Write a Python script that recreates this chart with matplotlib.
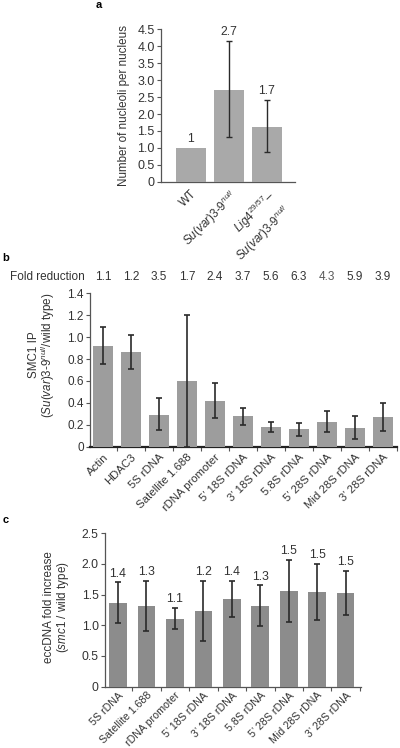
import numpy as np
import matplotlib
matplotlib.use("Agg")
import matplotlib.pyplot as plt

plt.rcParams['font.family'] = ['Liberation Sans', 'DejaVu Sans']
plt.rcParams['mathtext.fontset'] = 'custom'
plt.rcParams['mathtext.rm'] = 'Liberation Sans'
plt.rcParams['mathtext.it'] = 'Liberation Sans:italic'
plt.rcParams['mathtext.bf'] = 'Liberation Sans:bold'

# ---------------- data ----------------
a_labels = ["WT", r"$Su(var)3$-$9^{null}$", "$Lig4^{29/57}$\u2013\n" + r"$Su(var)3$-$9^{null}$"]
a_values = [1.0, 2.7, 1.63]
a_err_hi = [np.nan, 4.14, 2.41]
a_err_lo = [np.nan, 1.31, 0.89]
a_texts = ["1", "2.7", "1.7"]
a_yticks = [0, 0.5, 1.0, 1.5, 2.0, 2.5, 3.0, 3.5, 4.0, 4.5]

b_labels = ["Actin", "HDAC3", "5S rDNA", "Satellite 1.688", "rDNA promoter",
            "5\u2019 18S rDNA", "3\u2019 18S rDNA", "5.8S rDNA", "5\u2019 28S rDNA",
            "Mid 28S rDNA", "3\u2019 28S rDNA"]
b_values = [0.92, 0.86, 0.285, 0.60, 0.42, 0.28, 0.18, 0.16, 0.23, 0.175, 0.27]
b_err_hi = [1.09, 1.02, 0.44, 1.20, 0.58, 0.35, 0.23, 0.22, 0.33, 0.28, 0.40]
b_err_lo = [0.755, 0.71, 0.15, 0.0, 0.26, 0.20, 0.13, 0.10, 0.13, 0.07, 0.14]
b_fold = ["1.1", "1.2", "3.5", "1.7", "2.4", "3.7", "5.6", "6.3", "4.3", "5.9", "3.9"]
b_yticks = [0, 0.2, 0.4, 0.6, 0.8, 1.0, 1.2, 1.4]

c_labels = ["5S rDNA", "Satellite 1.688", "rDNA promoter", "5\u2019 18S rDNA",
            "3\u2019 18S rDNA", "5.8S rDNA", "5\u2019 28S rDNA", "Mid 28S rDNA",
            "3\u2019 28S rDNA"]
c_values = [1.37, 1.32, 1.11, 1.23, 1.43, 1.32, 1.56, 1.54, 1.53]
c_err_hi = [1.70, 1.72, 1.29, 1.72, 1.72, 1.65, 2.07, 2.00, 1.89]
c_err_lo = [1.04, 0.91, 0.94, 0.75, 1.14, 0.99, 1.05, 1.08, 1.16]
c_texts = ["1.4", "1.3", "1.1", "1.2", "1.4", "1.3", "1.5", "1.5", "1.5"]
c_yticks = [0, 0.5, 1.0, 1.5, 2.0, 2.5]

TXT = "#333333"
SPINE = "#555555"
FS = 8.2

fig = plt.figure(figsize=(4.0, 7.48), dpi=100)


def fmt(v):
    return "0" if v == 0 else f"{v:.1f}"


def style_axes(ax, yticks, fs):
    for s in ["top", "right"]:
        ax.spines[s].set_visible(False)
    for s in ["left", "bottom"]:
        ax.spines[s].set_color(SPINE)
        ax.spines[s].set_linewidth(0.9)
    ax.set_yticks(yticks)
    ax.set_yticklabels([fmt(v) for v in yticks])
    ax.tick_params(axis="y", direction="out", length=3, width=0.8, color=SPINE,
                   labelsize=fs, labelcolor=TXT, pad=1.5)
    ax.set_ylim(yticks[0], yticks[-1])


def draw_errs(ax, x, vals, lo, hi, cap, lw):
    vals = np.asarray(vals, float)
    lo = np.asarray(lo, float)
    hi = np.asarray(hi, float)
    m = ~np.isnan(hi)
    x = np.asarray(x)[m]
    ax.errorbar(x, vals[m], yerr=[vals[m] - lo[m], hi[m] - vals[m]], fmt="none",
                ecolor="#2a2a2a", elinewidth=lw, capsize=cap, capthick=lw, zorder=4)


# ---------------- panel a ----------------
axa = fig.add_axes([0.4025, 0.7567, 0.335, 0.2045])
xa = np.arange(len(a_values))
axa.bar(xa, a_values, width=0.79, color="#a9a9a9", zorder=3)
draw_errs(axa, xa, a_values, a_err_lo, a_err_hi, 1.9, 1.0)
style_axes(axa, a_yticks, 9.0)
axa.set_xlim(-0.79, 2.74)
axa.set_xticks(xa)
axa.set_xticklabels(a_labels, rotation=45, ha="right", va="top", rotation_mode="anchor")
axa.tick_params(axis="x", length=0, labelsize=FS + 0.3, labelcolor=TXT, pad=4)
for i, t in enumerate(a_texts):
    top = a_values[i] if np.isnan(a_err_hi[i]) else a_err_hi[i]
    axa.annotate(t, (xa[i], top), xytext=(0, 2.5), textcoords="offset points",
                 ha="center", va="bottom", fontsize=FS + 0.6, color=TXT)
axa.set_ylabel("Number of nucleoli per nucleus", fontsize=FS + 0.2, color=TXT, labelpad=5)
fig.text(0.2475, 0.993, "a", fontsize=8, fontweight="bold", ha="center", va="center")

# ---------------- panel b ----------------
axb = fig.add_axes([0.225, 0.4028, 0.7675, 0.2051])
xb = np.arange(len(b_values))
axb.bar(xb, b_values, width=0.71, color="#9d9d9d", zorder=3)
draw_errs(axb, xb, b_values, b_err_lo, b_err_hi, 2.4, 1.2)
style_axes(axb, b_yticks, FS + 0.3)
axb.spines["bottom"].set_linewidth(1.6)
axb.spines["bottom"].set_color("#222222")
axb.set_xlim(-0.46, 10.46)
axb.set_xticks(xb)
axb.set_xticklabels(b_labels, rotation=45, ha="right", va="top", rotation_mode="anchor")
axb.set_xticks(np.arange(len(b_values)) + 0.5, minor=True)
axb.tick_params(axis="x", which="major", length=0, labelsize=FS, labelcolor=TXT, pad=4)
axb.tick_params(axis="x", which="minor", length=3, width=0.8, color=SPINE, direction="out")
fold_y = 1 + 16.0 / (0.2051 * 748)
for i, t in enumerate(b_fold):
    axb.text(xb[i], fold_y, t, transform=axb.get_xaxis_transform(), ha="center",
             va="center", fontsize=FS + 0.3, color="#5a5a5a" if t == "4.3" else TXT)
fig.text(0.026, 1 - 277 / 748, "Fold reduction", fontsize=FS + 0.3, color=TXT,
         ha="left", va="center")
fig.text(0.084, 1 - 355 / 748, "SMC1 IP", fontsize=FS + 0.2, color=TXT, rotation=90,
         ha="center", va="center")
fig.text(0.121, 1 - 355 / 748, r"($Su(var)3$-$9^{null}$/wild type)", fontsize=FS + 0.2,
         color=TXT, rotation=90, ha="center", va="center")
fig.text(0.015, 1 - 258 / 748, "b", fontsize=8, fontweight="bold", ha="center", va="center")

# ---------------- panel c ----------------
axc = fig.add_axes([0.2625, 0.0820, 0.64, 0.2051])
xc = np.arange(len(c_values))
axc.bar(xc, c_values, width=0.62, color="#8c8c8c", zorder=3)
draw_errs(axc, xc, c_values, c_err_lo, c_err_hi, 2.4, 1.2)
style_axes(axc, c_yticks, FS + 0.5)
axc.set_xlim(-0.457, 8.54)
axc.set_xticks(xc)
axc.set_xticklabels(c_labels, rotation=45, ha="right", va="top", rotation_mode="anchor")
axc.set_xticks(np.arange(len(c_values)) + 0.5, minor=True)
axc.tick_params(axis="x", which="major", length=0, labelsize=FS - 0.5, labelcolor=TXT, pad=2.5)
axc.tick_params(axis="x", which="minor", length=3, width=0.8, color=SPINE, direction="out")
for i, t in enumerate(c_texts):
    axc.annotate(t, (xc[i], c_err_hi[i]), xytext=(0, 2), textcoords="offset points",
                 ha="center", va="bottom", fontsize=FS + 0.6, color=TXT)
fig.text(0.123, 1 - 607 / 748, "eccDNA fold increase", fontsize=FS + 0.2, color=TXT,
         rotation=90, ha="center", va="center")
fig.text(0.157, 1 - 607 / 748, r"($smc1$ / wild type)", fontsize=FS + 0.2, color=TXT,
         rotation=90, ha="center", va="center")
fig.text(0.015, 1 - 520 / 748, "c", fontsize=8, fontweight="bold", ha="center", va="center")

fig.savefig("out.png", dpi=100, facecolor="white")
